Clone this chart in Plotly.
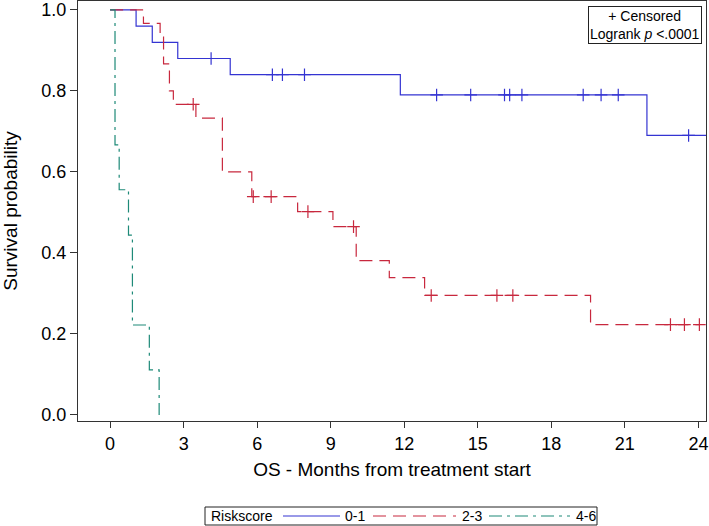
import plotly.graph_objects as go

# ---------------- data ----------------
group_names = ["0-1", "2-3", "4-6"]

blue_time = [0, 1.06, 1.72, 2.76, 4.9, 11.84, 21.9, 24.5]
blue_surv = [1.0, 0.96, 0.92, 0.88, 0.84, 0.79, 0.69, 0.69]
blue_cens_time = [4.12, 6.62, 7.03, 7.93, 13.32, 14.71, 16.09, 16.3, 16.8, 19.3, 20.03, 20.73, 23.6]
blue_cens_surv = [0.88, 0.84, 0.84, 0.84, 0.79, 0.79, 0.79, 0.79, 0.79, 0.79, 0.79, 0.79, 0.69]

red_time = [0, 1.36, 2.04, 2.18, 2.42, 2.58, 3.5, 4.58, 5.78, 7.65, 9.09, 10.04, 11.39, 12.83, 19.6, 24.04]
red_surv = [1.0, 0.967, 0.933, 0.867, 0.8, 0.767, 0.733, 0.60, 0.539, 0.502, 0.465, 0.381, 0.339, 0.295, 0.223, 0.223]
red_cens_time = [3.39, 5.84, 6.57, 8.07, 9.93, 13.1, 15.78, 16.43, 22.86, 23.43, 24.04]
red_cens_surv = [0.767, 0.539, 0.539, 0.502, 0.465, 0.295, 0.295, 0.295, 0.223, 0.223, 0.223]

green_time = [0, 0.2, 0.37, 0.75, 0.91, 1.6, 2.0]
green_surv = [1.0, 0.667, 0.556, 0.444, 0.222, 0.111, 0.0]

x_ticks = [0, 3, 6, 9, 12, 15, 18, 21, 24]
y_ticks = [0.0, 0.2, 0.4, 0.6, 0.8, 1.0]
y_tick_labels = ["0.0", "0.2", "0.4", "0.6", "0.8", "1.0"]

# ---------------- styles ----------------
BLUE = "#3434D2"
RED = "#C8283E"
GREEN = "#1E8A78"
FONT = "Liberation Sans, Arial, sans-serif"

W, H = 709, 526
ML, MR, MT, MB = 78, 3, 1, 105
PW = W - ML - MR
PH = H - MT - MB


def pxx(px):
    return (px - ML) / PW


def pxy(py):
    return (H - MB - py) / PH


fig = go.Figure()

series = [
    (blue_time, blue_surv, blue_cens_time, blue_cens_surv, BLUE, "solid"),
    (red_time, red_surv, red_cens_time, red_cens_surv, RED, "13px,7px"),
    (green_time, green_surv, [], [], GREEN, "13px,5px,3px,5px"),
]

for (t, s, ct, cs, col, dash), name in zip(series, group_names):
    fig.add_trace(go.Scatter(
        x=t, y=s, mode="lines", name=name,
        line=dict(color=col, width=1.2, dash=dash, shape="hv"),
        showlegend=False, hoverinfo="skip",
    ))
    if ct:
        fig.add_trace(go.Scatter(
            x=ct, y=cs, mode="markers", name=name + " censored",
            marker=dict(symbol="cross-thin", size=9,
                        line=dict(color=col, width=1.2)),
            showlegend=False, hoverinfo="skip",
        ))

fig.update_layout(
    width=W, height=H,
    margin=dict(l=ML, r=MR, t=MT, b=MB, autoexpand=False),
    paper_bgcolor="white", plot_bgcolor="white",
    font=dict(family=FONT, color="black"),
    showlegend=False,
)

fig.update_xaxes(
    range=[-1.31, 24.31], tickvals=x_ticks,
    ticks="outside", ticklen=6, tickwidth=1, tickcolor="#333",
    showline=True, linecolor="#333", linewidth=1, mirror=True,
    showgrid=False, zeroline=False,
    tickfont=dict(size=18, family=FONT),
    title=dict(text="OS - Months from treatment start",
               font=dict(size=19, family=FONT), standoff=10),
)
fig.update_yaxes(
    range=[-0.015, 1.022], tickvals=y_ticks, ticktext=y_tick_labels,
    ticks="outside", ticklen=7, tickwidth=1, tickcolor="#333",
    showline=True, linecolor="#333", linewidth=1, mirror=True,
    showgrid=False, zeroline=False,
    tickfont=dict(size=18, family=FONT),
    title=dict(text="Survival probability",
               font=dict(size=19, family=FONT), standoff=18),
)

# inset box (top right)
fig.add_annotation(
    xref="paper", yref="paper", x=pxx(702), y=pxy(6), xanchor="right", yanchor="top",
    text="+ Censored<br>Logrank <i>p</i> <.0001", showarrow=False, align="center",
    font=dict(size=14, family=FONT, color="black"),
    bordercolor="#222", borderwidth=1, borderpad=1, bgcolor="white",
)

# legend drawn at the bottom
box_l, box_r, box_t, box_b = 205, 597, 507, 525
fig.add_shape(type="rect", xref="paper", yref="paper",
              x0=pxx(box_l), x1=pxx(box_r), y0=pxy(box_b), y1=pxy(box_t),
              line=dict(color="#222", width=1), fillcolor="white")
legend_y = pxy((box_t + box_b) / 2)
fig.add_annotation(xref="paper", yref="paper", x=pxx(209), y=legend_y,
                   xanchor="left", yanchor="middle", text="Riskscore", showarrow=False,
                   font=dict(size=14, family=FONT, color="black"))
legend_items = [
    (283, 340, 343, BLUE, "solid"),
    (373, 456, 460, RED, "13px,7px"),
    (489, 570, 574, GREEN, "13px,5px,3px,5px"),
]
for (x0, x1, xt, col, dash), name in zip(legend_items, group_names):
    fig.add_shape(type="line", xref="paper", yref="paper",
                  x0=pxx(x0), x1=pxx(x1), y0=legend_y, y1=legend_y,
                  line=dict(color=col, width=1.2, dash=dash))
    fig.add_annotation(xref="paper", yref="paper", x=pxx(xt), y=legend_y,
                       xanchor="left", yanchor="middle", text=name, showarrow=False,
                       font=dict(size=14, family=FONT, color="black"))

fig.write_html("out.html", config={"displayModeBar": False},
               post_script="document.body.style.margin='0px';")
